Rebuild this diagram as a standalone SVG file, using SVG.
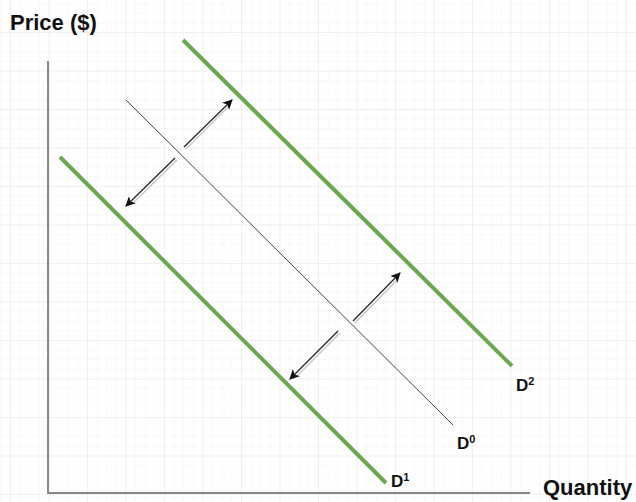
<svg xmlns="http://www.w3.org/2000/svg" width="636" height="502" viewBox="0 0 636 502">
<defs>
<pattern id="minor" x="10" y="32" width="9.625" height="9.625" patternUnits="userSpaceOnUse">
<path d="M0 0H9.625M0 0V9.625" fill="none" stroke="#f4f4f4" stroke-width="1"/>
</pattern>
<pattern id="major" x="10" y="32" width="38.5" height="38.5" patternUnits="userSpaceOnUse">
<path d="M0 0H38.5M0 0V38.5" fill="none" stroke="#e8e8e8" stroke-width="1"/>
</pattern>
<marker id="ah" viewBox="0 0 10 10" refX="9" refY="5" markerWidth="10" markerHeight="10" markerUnits="userSpaceOnUse" orient="auto">
<path d="M0 0L10 5L0 10L2.5 5Z" fill="#111"/>
</marker>
</defs>
<style>
.lbl{font-family:"Liberation Sans",Arial,sans-serif;font-weight:bold;fill:#111}
.ax{stroke:#888;stroke-width:2;fill:none}
.green{stroke:#6aa84f;stroke-width:4;stroke-linecap:butt}
.d0{stroke:#444;stroke-width:1}
.arr{stroke:#222;stroke-width:1.2;marker-end:url(#ah)}
.sh{stroke:#c8c8c8;stroke-width:1.5}
</style>
<rect width="636" height="502" fill="#ffffff"/>
<rect width="636" height="502" fill="url(#minor)"/>
<rect width="636" height="502" fill="url(#major)"/>

<g id="axes">
<path class="ax" d="M48 61V493H530"/>
</g>
<g id="axis-labels">
<text class="lbl" x="10" y="30" font-size="22">Price ($)</text>
<text class="lbl" x="543" y="495" font-size="22">Quantity</text>
</g>

<g id="D2">
<line class="green" x1="183" y1="40" x2="512" y2="366"/>
<text class="lbl" x="516" y="391" font-size="17">D<tspan font-size="11" dy="-6">2</tspan></text>
</g>
<g id="D0">
<line class="d0" x1="126" y1="100" x2="453" y2="425"/>
<text class="lbl" x="457" y="449" font-size="17">D<tspan font-size="11" dy="-6">0</tspan></text>
</g>
<g id="D1">
<line class="green" x1="60" y1="157" x2="386" y2="483"/>
<text class="lbl" x="391" y="487" font-size="17">D<tspan font-size="11" dy="-6">1</tspan></text>
</g>

<g id="connectors">
<line class="sh" x1="186" y1="149" x2="229" y2="106"/>
<line class="arr" x1="184" y1="147" x2="232" y2="100"/>
<line class="sh" x1="177" y1="160" x2="133" y2="203"/>
<line class="arr" x1="175" y1="158" x2="126" y2="206"/>
<line class="sh" x1="355" y1="323" x2="396" y2="281"/>
<line class="arr" x1="353" y1="321" x2="400" y2="273"/>
<line class="sh" x1="340" y1="333" x2="297" y2="376"/>
<line class="arr" x1="338" y1="331" x2="290" y2="379"/>
</g>
</svg>
